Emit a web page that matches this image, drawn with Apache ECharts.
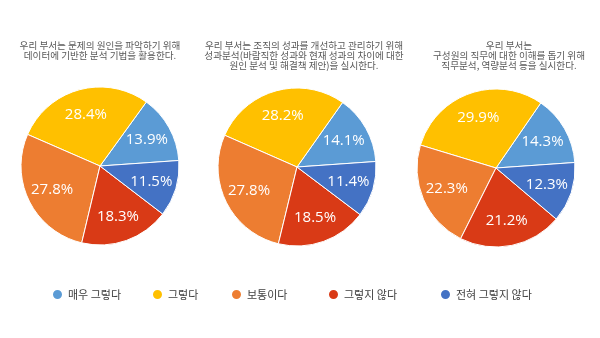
<!DOCTYPE html>
<html><head><meta charset="utf-8">
<script src="https://cdn.jsdelivr.net/npm/echarts@6/dist/echarts.min.js"></script>
<style>html,body{margin:0;padding:0;background:#fff}#c{width:600px;height:338px}</style>
</head><body><div id="c"></div>
<script>
const categories = ['매우 그렇다', '그렇다', '보통이다', '그렇지 않다', '전혀 그렇지 않다'];
const titles = [
  '우리 부서는 문제의 원인을 파악하기 위해\n데이터에 기반한 분석 기법을 활용한다.',
  '우리 부서는 조직의 성과를 개선하고 관리하기 위해\n성과분석(바람직한 성과와 현재 성과의 차이에 대한\n원인 분석 및 해결책 제안)을 실시한다.',
  '우리 부서는\n구성원의 직무에 대한 이해를 돕기 위해\n직무분석, 역량분석 등을 실시한다.'
];
const values1 = [13.9, 28.4, 27.8, 18.3, 11.5];
const values2 = [14.1, 28.2, 27.8, 18.5, 11.4];
const values3 = [14.3, 29.9, 22.3, 21.2, 12.3];
const colors = ['#5B9BD5', '#FFC000', '#ED7D31', '#D93A16', '#4472C4'];

const allValues = [values1, values2, values3];
const centers = [[100, 166], [297, 167], [496, 168]];
const titleX = [100, 304, 509];
const legendX = [51, 151, 230, 327, 439];
const R = 79;
const FONT = '"Noto Sans CJK KR", "Noto Sans", sans-serif';

const series = [];
allValues.forEach((vals, i) => {
  const data = vals.map((v, k) => ({ name: categories[k], value: v }));
  series.push({
    type: 'pie', center: centers[i], radius: R, clockwise: false, startAngle: 4,
    color: colors, label: { show: false }, labelLine: { show: false },
    itemStyle: { borderColor: '#fff', borderWidth: 1 },
    emphasis: { disabled: true }, data: data
  });
});
allValues.forEach((vals, i) => {
  const data = vals.map((v, k) => ({ name: categories[k], value: v }));
  series.push({
    type: 'pie', center: centers[i], radius: [R * 0.28, R], clockwise: false, startAngle: 4,
    silent: true, z: 5,
    itemStyle: { color: 'rgba(0,0,0,0)', borderWidth: 0 },
    label: { show: true, position: 'inside', color: '#fff', fontSize: 15,
      fontFamily: '"Open Sans", "Noto Sans", sans-serif',
      formatter: p => p.value.toFixed(1) + '%' },
    labelLine: { show: false }, emphasis: { disabled: true }, data: data
  });
});

const option = {
  animation: false,
  color: colors,
  title: titles.map((t, i) => ({
    text: t, left: titleX[i], top: 40, textAlign: 'center', padding: 0,
    textStyle: { fontSize: 9.6, fontWeight: 'normal', color: '#595959', lineHeight: 10, fontFamily: FONT }
  })),
  legend: categories.map((c, i) => ({
    data: [c], left: legendX[i], top: 288, padding: 0, icon: 'circle',
    itemWidth: 11, itemHeight: 11, itemGap: 4, selectedMode: false,
    textStyle: { fontSize: 11, color: '#404040', fontFamily: FONT }
  })),
  series: series
};
const chart = echarts.init(document.getElementById('c'), null, { renderer: 'canvas' });
chart.setOption(option);
</script></body></html>
